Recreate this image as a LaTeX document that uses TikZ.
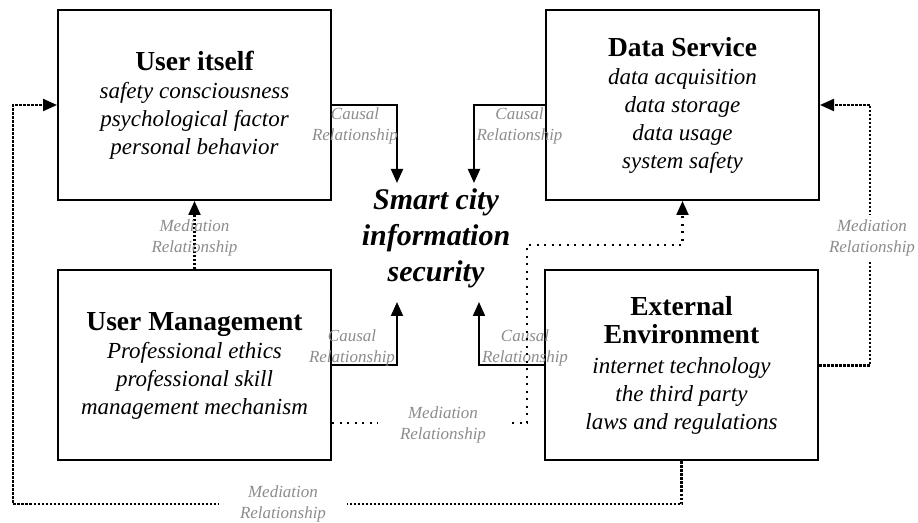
\documentclass[tikz,border=0pt]{standalone}
\usepackage{fontspec}
\setmainfont{Liberation Serif}
\usetikzlibrary{positioning,arrows.meta}

\begin{document}
\begin{tikzpicture}[x=1pt,y=1pt,
    box/.style={draw,line width=2pt,minimum width=273pt,minimum height=190pt,
        align=center,inner sep=0pt,font=\fontsize{23}{28}\selectfont\itshape},
    causal/.style={line width=2pt,-{Triangle[length=14pt,width=12pt]}},
    medi/.style={line width=2.2pt,dash pattern=on 2.5pt off 1.5pt,
        -{Triangle[length=14pt,width=12pt]}},
    sparse/.style={line width=2.2pt,dash pattern=on 2.2pt off 5.3pt,
        -{Triangle[length=14pt,width=12pt]}},
    rel/.style={text=black!45,align=center,inner sep=1pt,
        font=\fontsize{17}{20.5}\selectfont\itshape}]

    \useasboundingbox (0,0) rectangle (918,522);

    % factor boxes
    \node[box] (ui) at (194.5,417) {{\upshape\bfseries\fontsize{27.5}{31}\selectfont User itself}\\
        safety consciousness\\psychological factor\\personal behavior};
    \node[box] (ds) at (682.5,417) {{\upshape\bfseries\fontsize{27.5}{31}\selectfont Data Service}\\
        data acquisition\\data storage\\data usage\\system safety};
    \node[box] (um) at (194.5,156.5) {{\upshape\bfseries\fontsize{27.5}{31}\selectfont User Management}\\
        Professional ethics\\professional skill\\management mechanism};
    \node[box] (ee) at (681.5,156.5) {{\upshape\bfseries\fontsize{27.5}{31}\selectfont External}\\
        {\upshape\bfseries\fontsize{27.5}{31}\selectfont Environment}\\[2pt]
        internet technology\\the third party\\laws and regulations};

    % centre
    \node[align=center,inner sep=0pt,font=\fontsize{30}{36}\selectfont\bfseries\itshape]
        (sec) at (436,284) {Smart city\\information\\security};

    % causal relationships
    \coordinate (t1) at (397,339);
    \coordinate (t2) at (474,339);
    \coordinate (t3) at (397,220);
    \coordinate (t4) at (479,220);
    \draw[causal] (ui.east) -| (t1);
    \draw[causal] (ds.west) -| (t2);
    \draw[causal] (um.east) -| (t3);
    \draw[causal] (ee.west) -| (t4);
    \node[rel] (c1) at (355,396) {Causal\\Relationship};
    \node[rel] (c2) at (519.5,396) {Causal\\Relationship};
    \node[rel] (c3) at (352,174) {Causal\\Relationship};
    \node[rel] (c4) at (525,174) {Causal\\Relationship};

    % mediation relationships
    \draw[medi] (um.north) -- (ui.south);
    \node[rel] (m1) at (194.5,284) {Mediation\\Relationship};

    \coordinate (bl) at (13,18);
    \draw[medi] (ee.south) |- (bl) |- (ui.west);
    \node[rel,fill=white,inner xsep=21pt] (m2) at (283,18) {Mediation\\Relationship};

    \coordinate (rt) at (870,417);
    \draw[medi] (ee.east) -| (rt) -- (ds.east);
    \node[rel,fill=white,inner ysep=5pt] (m3) at (872,284) {Mediation\\Relationship};

    \coordinate (ma) at (527,99);
    \coordinate (mb) at (527,277);
    \draw[sparse] (um.east |- ma) -- (ma) -- (mb) -| (ds.south);
    \node[rel,fill=white,inner xsep=22pt] (m4) at (443,97) {Mediation\\Relationship};

\end{tikzpicture}
\end{document}
